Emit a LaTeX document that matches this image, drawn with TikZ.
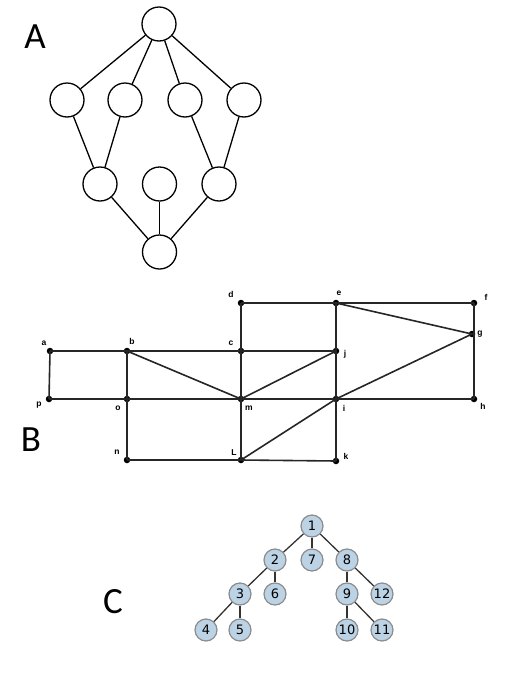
\documentclass[tikz,border=0pt]{standalone}
\usepackage{fontspec}
\setmainfont{Liberation Sans}
\newfontfamily\bigfont{Carlito}
\newfontfamily\numfont{DejaVu Sans}
\begin{document}
\begin{tikzpicture}[x=1pt,y=-1pt,
  big/.style={font=\bigfont\fontsize{37}{37}\selectfont,inner sep=0pt},
  cnode/.style={circle,draw,line width=1.3pt,minimum size=34pt,inner sep=0pt},
  aedge/.style={line width=1.3pt},
  dot/.style={circle,fill=black,minimum size=6.5pt,inner sep=0pt},
  bedge/.style={line width=1.6pt,draw=black!85},
  blab/.style={font=\bfseries\fontsize{8.5}{9}\selectfont,inner sep=0pt},
  tnode/.style={circle,draw=black!45,line width=1.2pt,minimum size=22pt,inner sep=0pt,font=\numfont\fontsize{13}{13}\selectfont},
  tedge/.style={line width=1.3pt,draw=black!80}]
\useasboundingbox (0,0) rectangle (525,675);
\definecolor{tfill}{HTML}{BCD3E6}
% ---- A ----
\node[big] (labA) at (35,37) {A};
\node[cnode] (t) at (159,24) {};
\node[cnode] (r1) at (67,100) {};
\node[cnode] (r2) at (125,100) {};
\node[cnode] (r3) at (185,100) {};
\node[cnode] (r4) at (244,100) {};
\node[cnode] (s1) at (100,184) {};
\node[cnode] (s2) at (159.5,184) {};
\node[cnode] (s3) at (219,184) {};
\node[cnode] (bt) at (159.5,252) {};
\foreach \u/\v in {t/r1,t/r2,t/r3,t/r4,r1/s1,r2/s1,r3/s3,r4/s3,s1/bt,s2/bt,s3/bt}
  \draw[aedge] (\u) -- (\v);
% ---- B ----
\node[big] (labB) at (31,440) {B};
\node[dot] (a) at (50,351) {};
\node[dot] (b) at (127,351) {};
\node[dot] (c) at (241,351) {};
\node[dot] (d) at (241,303) {};
\node[dot] (e) at (336,303) {};
\node[dot] (f) at (474,303) {};
\node[dot] (g) at (472,334) {};
\node[dot] (h) at (474,399) {};
\node[dot] (i) at (336,399) {};
\node[dot] (j) at (336,351) {};
\node[dot] (k) at (336,461) {};
\node[dot] (L) at (241,460) {};
\node[dot] (m) at (241,399) {};
\node[dot] (n) at (127,460) {};
\node[dot] (o) at (127,399) {};
\node[dot] (p) at (49,399) {};
\coordinate (gv) at (474,334);
\foreach \u/\v in {d/e,e/f,d/c,c/m,m/L,e/j,j/i,i/k,a/b,b/c,c/j,a/p,p/o,o/m,m/i,i/h,b/o,o/n,n/L,L/k,b/m,m/j,L/i}
  \draw[bedge] (\u.center) -- (\v.center);
\draw[bedge] (f.center) -- (h.center);
\draw[bedge] (e.center) -- (g.center) -- (i.center);
\node[blab] (la) at (44,343) {a};
\node[blab] (lb) at (132,341) {b};
\node[blab] (lc) at (231,343) {c};
\node[blab] (ld) at (231,294) {d};
\node[blab] (le) at (339,293) {e};
\node[blab] (lf) at (486,297) {f};
\node[blab] (lg) at (480,334) {g};
\node[blab] (lh) at (483,406) {h};
\node[blab] (li) at (344,408) {i};
\node[blab] (lj) at (345,354) {j};
\node[blab] (lk) at (346,456) {k};
\node[blab] (lL) at (234,453) {L};
\node[blab] (lm) at (249,408) {m};
\node[blab] (ln) at (117,452) {n};
\node[blab] (lo) at (118,408) {o};
\node[blab] (lp) at (39,405) {p};
% ---- C ----
\node[big] (labC) at (113,602) {C};
\node[tnode,fill=tfill] (n1) at (312,526) {1};
\node[tnode,fill=tfill] (n2) at (275,560) {2};
\node[tnode,fill=tfill] (n7) at (312,560) {7};
\node[tnode,fill=tfill] (n8) at (347,560) {8};
\node[tnode,fill=tfill] (n3) at (240,594) {3};
\node[tnode,fill=tfill] (n6) at (275,594) {6};
\node[tnode,fill=tfill] (n9) at (347,594) {9};
\node[tnode,fill=tfill] (n12) at (382,594) {12};
\node[tnode,fill=tfill] (n4) at (206,630) {4};
\node[tnode,fill=tfill] (n5) at (240,630) {5};
\node[tnode,fill=tfill] (n10) at (347,630) {10};
\node[tnode,fill=tfill] (n11) at (382,630) {11};
\foreach \u/\v in {n1/n2,n1/n7,n1/n8,n2/n3,n2/n6,n3/n4,n3/n5,n8/n9,n8/n12,n9/n10,n9/n11}
  \draw[tedge] (\u) -- (\v);
\end{tikzpicture}
\end{document}
